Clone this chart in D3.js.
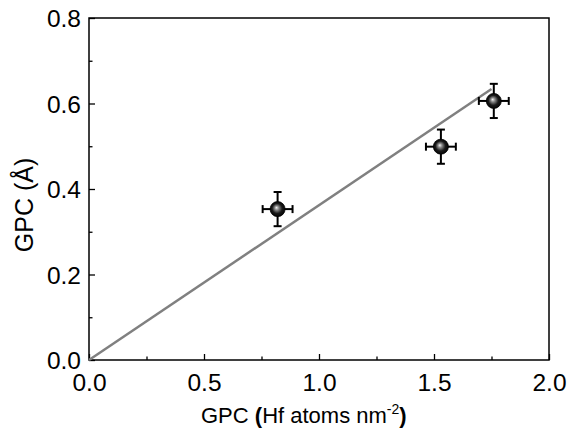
<!DOCTYPE html>
<html>
<head>
<meta charset="utf-8">
<script src="https://cdn.jsdelivr.net/npm/d3@7"></script>
<style>
  body { margin: 0; background: #fff; }
  text { font-family: "Liberation Sans", Arial, sans-serif; fill: #000; }
</style>
</head>
<body>
<div id="chart"></div>
<script>
// data
var gpcAtoms = [0.82, 1.53, 1.76];
var gpcAngstrom = [0.353, 0.499, 0.606];
var xErr = [0.065, 0.065, 0.065];
var yErr = [0.04, 0.04, 0.04];
var fitLine = [[0, 0], [1.75, 0.634]];
var xTicks = [0, 0.5, 1.0, 1.5, 2.0];
var yTicks = [0, 0.2, 0.4, 0.6, 0.8];
var xMinor = [0.25, 0.75, 1.25, 1.75];
var yMinor = [0.1, 0.3, 0.5, 0.7];

var W = 570, H = 433;
var margin = { top: 18, right: 21, bottom: 73, left: 89 };
var width = W - margin.left - margin.right;
var height = H - margin.top - margin.bottom;

var svg = d3.select("#chart").append("svg")
    .attr("width", W).attr("height", H);

var defs = svg.append("defs");
var grad = defs.append("radialGradient")
    .attr("id", "ball").attr("cx", "50%").attr("cy", "50%").attr("r", "55%")
    .attr("fx", "42%").attr("fy", "40%");
grad.append("stop").attr("offset", "0%").attr("stop-color", "#f4f4f4");
grad.append("stop").attr("offset", "25%").attr("stop-color", "#8a8a8a");
grad.append("stop").attr("offset", "60%").attr("stop-color", "#1a1a1a");
grad.append("stop").attr("offset", "100%").attr("stop-color", "#000");

var g = svg.append("g").attr("transform", `translate(${margin.left},${margin.top})`);

var x = d3.scaleLinear().domain([0, 2.0]).range([0, width]);
var y = d3.scaleLinear().domain([0, 0.8]).range([height, 0]);

// minor ticks (inward)
g.append("g").attr("transform", `translate(0,${height})`)
    .call(d3.axisTop(x).tickValues(xMinor).tickSize(3.5).tickFormat(""))
    .call(a => a.select(".domain").remove())
    .selectAll("line").attr("stroke-width", 1.3);
g.append("g")
    .call(d3.axisRight(y).tickValues(yMinor).tickSize(3.5).tickFormat(""))
    .call(a => a.select(".domain").remove())
    .selectAll("line").attr("stroke-width", 1.3);

// major ticks (inward) and labels
var xAxis = g.append("g").attr("transform", `translate(0,${height})`)
    .call(d3.axisTop(x).tickValues(xTicks).tickSize(6).tickFormat(d3.format(".1f")));
xAxis.select(".domain").remove();
xAxis.selectAll("line").attr("stroke-width", 1.3);
xAxis.selectAll("text").attr("y", 31).attr("dy", null)
    .style("font-size", "24.5px").attr("font-family", "Liberation Sans, Arial, sans-serif");

var yAxis = g.append("g")
    .call(d3.axisRight(y).tickValues(yTicks).tickSize(6).tickFormat(d3.format(".1f")));
yAxis.select(".domain").remove();
yAxis.selectAll("line").attr("stroke-width", 1.3);
yAxis.selectAll("text").attr("x", -8).attr("dy", "0.35em").attr("text-anchor", "end")
    .style("font-size", "24.5px").attr("font-family", "Liberation Sans, Arial, sans-serif");

// frame
g.append("rect").attr("width", width).attr("height", height)
    .attr("fill", "none").attr("stroke", "#000").attr("stroke-width", 1.5);

// fit line
g.append("path").datum(fitLine)
    .attr("d", d3.line().x(d => x(d[0])).y(d => y(d[1])))
    .attr("stroke", "#808080").attr("stroke-width", 2.5).attr("fill", "none");

// points with error bars
var pts = gpcAtoms.map((v, i) => ({ x: v, y: gpcAngstrom[i], ex: xErr[i], ey: yErr[i] }));
var cap = 4;
var pg = g.selectAll(".pt").data(pts).enter().append("g").attr("class", "pt");
pg.append("line")
    .attr("x1", d => x(d.x - d.ex)).attr("x2", d => x(d.x + d.ex))
    .attr("y1", d => y(d.y)).attr("y2", d => y(d.y));
pg.append("line")
    .attr("x1", d => x(d.x)).attr("x2", d => x(d.x))
    .attr("y1", d => y(d.y - d.ey)).attr("y2", d => y(d.y + d.ey));
pg.append("line")
    .attr("x1", d => x(d.x - d.ex)).attr("x2", d => x(d.x - d.ex))
    .attr("y1", d => y(d.y) - cap).attr("y2", d => y(d.y) + cap);
pg.append("line")
    .attr("x1", d => x(d.x + d.ex)).attr("x2", d => x(d.x + d.ex))
    .attr("y1", d => y(d.y) - cap).attr("y2", d => y(d.y) + cap);
pg.append("line")
    .attr("x1", d => x(d.x) - cap).attr("x2", d => x(d.x) + cap)
    .attr("y1", d => y(d.y - d.ey)).attr("y2", d => y(d.y - d.ey));
pg.append("line")
    .attr("x1", d => x(d.x) - cap).attr("x2", d => x(d.x) + cap)
    .attr("y1", d => y(d.y + d.ey)).attr("y2", d => y(d.y + d.ey));
pg.selectAll("line").attr("stroke", "#000").attr("stroke-width", 2);
pg.append("circle")
    .attr("cx", d => x(d.x)).attr("cy", d => y(d.y)).attr("r", 7.5)
    .attr("fill", "url(#ball)").attr("stroke", "#000").attr("stroke-width", 0.8);

// axis titles
var xl = svg.append("text")
    .attr("x", 201).attr("y", 423)
    .attr("text-anchor", "start").style("font-size", "22px");
xl.append("tspan").text("GPC ");
xl.append("tspan").attr("font-weight", "bold").text("(");
xl.append("tspan").text("Hf atoms nm");
xl.append("tspan").attr("dy", -9).style("font-size", "14px").text("-2");
xl.append("tspan").attr("dy", 9).attr("font-weight", "bold").text(")");

svg.append("text")
    .attr("transform", "translate(33,205) rotate(-90)")
    .attr("text-anchor", "middle").style("font-size", "25px")
    .text("GPC (Å)");
</script>
</body>
</html>
